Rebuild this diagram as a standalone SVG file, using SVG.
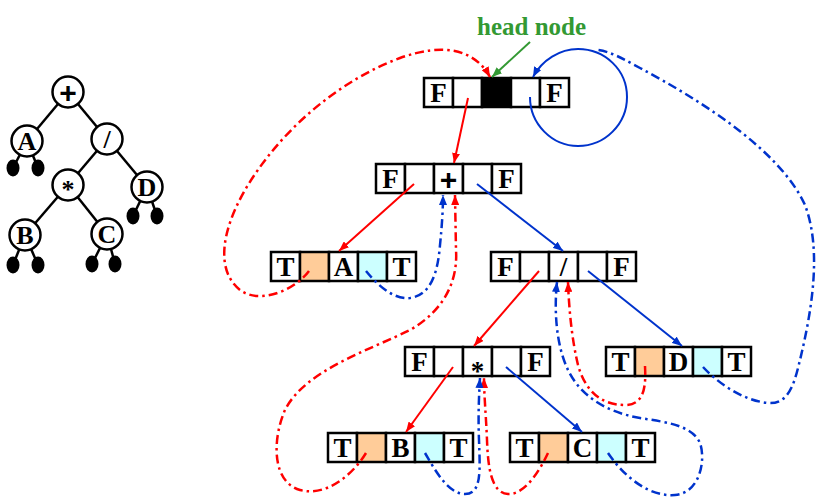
<svg xmlns="http://www.w3.org/2000/svg" width="821" height="499" viewBox="0 0 821 499">
<defs>
<style>
.cell{fill:#fff;stroke:#000;stroke-width:2.5}
.or{fill:#FFCC99}
.cy{fill:#CCFFFF}
.blk{fill:#000}
.lbl{font-family:"Liberation Serif","Times New Roman",serif;font-weight:bold;font-size:27px;text-anchor:middle;fill:#000}
.sym{font-family:"Liberation Sans",Arial,sans-serif;font-weight:bold;font-size:30px;text-anchor:middle;fill:#000}
.tl{font-family:"Liberation Serif","Times New Roman",serif;font-weight:bold;font-size:26px;text-anchor:middle;fill:#000}
.tc{fill:#fff;stroke:#000;stroke-width:2.5}
.te{stroke:#000;stroke-width:2.5;fill:none}
.red{stroke:#FF0000;stroke-width:2;fill:none}
.blue{stroke:#0033CC;stroke-width:2;fill:none}
.rdd{stroke:#FF0000;stroke-width:2.5;fill:none;stroke-dasharray:9 4 2.5 4}
.bdd{stroke:#0033CC;stroke-width:2.5;fill:none;stroke-dasharray:9 4 2.5 4}
</style>
<marker id="ar" markerUnits="userSpaceOnUse" markerWidth="10" markerHeight="8" refX="10" refY="4" orient="auto"><path d="M0,0 L10,4 L0,8 z" fill="#FF0000"/></marker>
<marker id="ab" markerUnits="userSpaceOnUse" markerWidth="10" markerHeight="8" refX="10" refY="4" orient="auto"><path d="M0,0 L10,4 L0,8 z" fill="#0033CC"/></marker>
<marker id="ag" markerUnits="userSpaceOnUse" markerWidth="10" markerHeight="8" refX="10" refY="4" orient="auto"><path d="M0,0 L10,4 L0,8 z" fill="#339933"/></marker>
</defs>
<rect width="821" height="499" fill="#fff"/>

<!-- left binary tree -->
<g id="tree">
<g class="te">
<line x1="68" y1="92" x2="27" y2="141"/>
<line x1="68" y1="92" x2="107" y2="139"/>
<line x1="107" y1="139" x2="68" y2="185"/>
<line x1="107" y1="139" x2="147" y2="187"/>
<line x1="68" y1="185" x2="25" y2="235"/>
<line x1="68" y1="185" x2="107" y2="234"/>
<line x1="27" y1="141" x2="13" y2="168"/>
<line x1="27" y1="141" x2="38" y2="168"/>
<line x1="147" y1="187" x2="133" y2="216"/>
<line x1="147" y1="187" x2="157" y2="216"/>
<line x1="25" y1="235" x2="13" y2="265"/>
<line x1="25" y1="235" x2="38" y2="265"/>
<line x1="107" y1="234" x2="92" y2="264"/>
<line x1="107" y1="234" x2="115" y2="264"/>
</g>
<g id="t-plus"><circle class="tc" cx="68" cy="92" r="15.5"/><text class="sym" x="68" y="103">+</text></g>
<g id="t-A"><circle class="tc" cx="27" cy="141" r="15.5"/><text class="tl" x="27" y="150">A</text></g>
<g id="t-div"><circle class="tc" cx="107" cy="139" r="15.5"/><text class="tl" x="107" y="148">/</text></g>
<g id="t-mul"><circle class="tc" cx="68" cy="185" r="15.5"/><text class="tl" x="68" y="198">*</text></g>
<g id="t-D"><circle class="tc" cx="147" cy="187" r="15.5"/><text class="tl" x="147" y="196">D</text></g>
<g id="t-B"><circle class="tc" cx="25" cy="235" r="15.5"/><text class="tl" x="25" y="244">B</text></g>
<g id="t-C"><circle class="tc" cx="107" cy="234" r="15.5"/><text class="tl" x="107" y="243">C</text></g>
<g id="t-leaves" fill="#000">
<ellipse cx="13" cy="168" rx="6.5" ry="8.5"/><ellipse cx="38" cy="168" rx="6.5" ry="8.5"/>
<ellipse cx="133" cy="216" rx="6.5" ry="8.5"/><ellipse cx="157" cy="216" rx="6.5" ry="8.5"/>
<ellipse cx="13" cy="265" rx="6.5" ry="8.5"/><ellipse cx="38" cy="265" rx="6.5" ry="8.5"/>
<ellipse cx="92" cy="264" rx="6.5" ry="8.5"/><ellipse cx="115" cy="264" rx="6.5" ry="8.5"/>
</g>
</g>

<!-- threaded tree nodes -->
<g id="head" transform="translate(424,78)">
<rect class="cell" x="0" y="0" width="29" height="29"/><rect class="cell" x="29" y="0" width="29" height="29"/><rect class="cell blk" x="58" y="0" width="29" height="29"/><rect class="cell" x="87" y="0" width="29" height="29"/><rect class="cell" x="116" y="0" width="29" height="29"/>
<text class="lbl" x="14.5" y="24">F</text><text class="lbl" x="130.5" y="24">F</text>
</g>
<g id="n-plus" transform="translate(376,164)">
<rect class="cell" x="0" y="0" width="29" height="29"/><rect class="cell" x="29" y="0" width="29" height="29"/><rect class="cell" x="58" y="0" width="29" height="29"/><rect class="cell" x="87" y="0" width="29" height="29"/><rect class="cell" x="116" y="0" width="29" height="29"/>
<text class="lbl" x="14.5" y="24">F</text><text class="sym" x="72.5" y="26">+</text><text class="lbl" x="130.5" y="24">F</text>
</g>
<g id="n-A" transform="translate(271,252)">
<rect class="cell" x="0" y="0" width="29" height="29"/><rect class="cell or" x="29" y="0" width="29" height="29"/><rect class="cell" x="58" y="0" width="29" height="29"/><rect class="cell cy" x="87" y="0" width="29" height="29"/><rect class="cell" x="116" y="0" width="29" height="29"/>
<text class="lbl" x="14.5" y="24">T</text><text class="lbl" x="72.5" y="24">A</text><text class="lbl" x="130.5" y="24">T</text>
</g>
<g id="n-div" transform="translate(491,252)">
<rect class="cell" x="0" y="0" width="29" height="29"/><rect class="cell" x="29" y="0" width="29" height="29"/><rect class="cell" x="58" y="0" width="29" height="29"/><rect class="cell" x="87" y="0" width="29" height="29"/><rect class="cell" x="116" y="0" width="29" height="29"/>
<text class="lbl" x="14.5" y="24">F</text><text class="lbl" x="72.5" y="24">/</text><text class="lbl" x="130.5" y="24">F</text>
</g>
<g id="n-mul" transform="translate(405,347)">
<rect class="cell" x="0" y="0" width="29" height="29"/><rect class="cell" x="29" y="0" width="29" height="29"/><rect class="cell" x="58" y="0" width="29" height="29"/><rect class="cell" x="87" y="0" width="29" height="29"/><rect class="cell" x="116" y="0" width="29" height="29"/>
<text class="lbl" x="14.5" y="24">F</text><text class="lbl" x="72.5" y="33">*</text><text class="lbl" x="130.5" y="24">F</text>
</g>
<g id="n-D" transform="translate(606,347)">
<rect class="cell" x="0" y="0" width="29" height="29"/><rect class="cell or" x="29" y="0" width="29" height="29"/><rect class="cell" x="58" y="0" width="29" height="29"/><rect class="cell cy" x="87" y="0" width="29" height="29"/><rect class="cell" x="116" y="0" width="29" height="29"/>
<text class="lbl" x="14.5" y="24">T</text><text class="lbl" x="72.5" y="24">D</text><text class="lbl" x="130.5" y="24">T</text>
</g>
<g id="n-B" transform="translate(328,433)">
<rect class="cell" x="0" y="0" width="29" height="29"/><rect class="cell or" x="29" y="0" width="29" height="29"/><rect class="cell" x="58" y="0" width="29" height="29"/><rect class="cell cy" x="87" y="0" width="29" height="29"/><rect class="cell" x="116" y="0" width="29" height="29"/>
<text class="lbl" x="14.5" y="24">T</text><text class="lbl" x="72.5" y="24">B</text><text class="lbl" x="130.5" y="24">T</text>
</g>
<g id="n-C" transform="translate(510,433)">
<rect class="cell" x="0" y="0" width="29" height="29"/><rect class="cell or" x="29" y="0" width="29" height="29"/><rect class="cell" x="58" y="0" width="29" height="29"/><rect class="cell cy" x="87" y="0" width="29" height="29"/><rect class="cell" x="116" y="0" width="29" height="29"/>
<text class="lbl" x="14.5" y="24">T</text><text class="lbl" x="72.5" y="24">C</text><text class="lbl" x="130.5" y="24">T</text>
</g>

<g id="label-head">
<text x="477" y="35" font-family="Liberation Serif, Times New Roman, serif" font-weight="bold" font-size="25" fill="#339933">head node</text>
</g>

<!-- connectors -->
<g id="connectors">
<line x1="530" y1="42" x2="492" y2="77" stroke="#339933" stroke-width="2" marker-end="url(#ag)"/>
<!-- left child links -->
<line class="red" x1="468" y1="98" x2="454" y2="163" marker-end="url(#ar)"/>
<line class="red" x1="414" y1="184" x2="339" y2="251" marker-end="url(#ar)"/>
<line class="red" x1="539" y1="271" x2="474" y2="346" marker-end="url(#ar)"/>
<line class="red" x1="453" y1="367" x2="406" y2="432" marker-end="url(#ar)"/>
<!-- right child links -->
<path class="blue" d="M530,97 C530,124 552,146 578,146 C605,146 627,124 627,97 C627,70 605,49 578,49 C560,49 542,60 533,77" marker-end="url(#ab)"/>
<line class="blue" x1="477" y1="184" x2="563" y2="251" marker-end="url(#ab)"/>
<line class="blue" x1="588" y1="271" x2="682" y2="346" marker-end="url(#ab)"/>
<line class="blue" x1="506" y1="367" x2="582" y2="432" marker-end="url(#ab)"/>
<!-- threads -->
<path class="rdd" d="M309,271 C295,290 260,305 240,290 C215,270 222,230 245,190 C280,130 340,80 400,58 C445,42 475,50 490,77" marker-end="url(#ar)"/>
<path class="rdd" d="M366,453 C352,476 325,497 300,490 C272,482 272,440 285,410 C305,370 370,350 410,330 C445,310 458,280 456,250 L455,195" marker-end="url(#ar)"/>
<path class="rdd" d="M548,453 C540,470 525,495 508,494 C492,493 488,470 487,440 C486,415 484,395 484,378" marker-end="url(#ar)"/>
<path class="rdd" d="M645,366 C646,385 645,405 625,405 C600,405 585,390 578,365 C572,340 569,310 568,282" marker-end="url(#ar)"/>
<path class="bdd" d="M366,271 C375,282 392,300 410,298 C432,295 438,270 440,245 C442,225 443,210 443,195" marker-end="url(#ab)"/>
<path class="bdd" d="M425,453 C435,470 448,494 465,494 C482,494 480,470 479,440 C478,415 479,395 480,378" marker-end="url(#ab)"/>
<path class="bdd" d="M608,453 C625,478 650,497 675,495 C700,493 706,460 700,443 C692,425 665,422 640,418 C605,412 580,395 568,370 C556,345 554,310 557,282" marker-end="url(#ab)"/>
<path class="bdd" d="M703,367 C715,380 740,400 768,403 C790,405 795,380 800,360 C812,310 822,250 805,205 C780,150 700,100 640,68 C625,60 612,52 598,50"/>
</g>
</svg>
